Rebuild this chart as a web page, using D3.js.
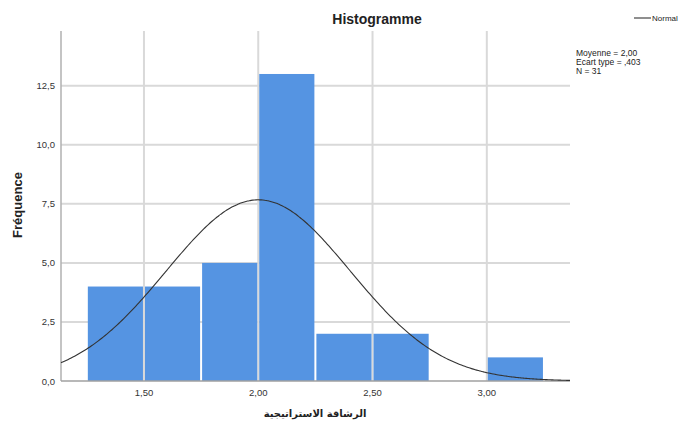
<!DOCTYPE html>
<html><head><meta charset="utf-8">
<script src="https://cdn.jsdelivr.net/npm/d3@7"></script>
<style>body{margin:0;background:#fff}svg{display:block}</style>
</head><body><svg id="c" width="683" height="421"></svg>
<script>
// Data
const binStarts = [1.25, 1.50, 1.75, 2.00, 2.25, 2.50, 2.75, 3.00];
const binWidth = 0.25;
const counts = [4, 4, 5, 13, 2, 2, 0, 1];
const yTicks = [0, 2.5, 5, 7.5, 10, 12.5];
const xTicks = [1.5, 2.0, 2.5, 3.0];
const stats = {mean: 2.00, sd: 0.403, n: 31};
const statLines = ["Moyenne = 2,00", "Ecart type = ,403", "N = 31"];

const svg = d3.select("#c");
const L = 61, R = 570, T = 31, B = 381;
const x = d3.scaleLinear().domain([1.137, 3.364]).range([L, R]);
const y = d3.scaleLinear().domain([0, 14.82]).range([B, T]);
const comma = s => s.replace(".", ",");
const fy = v => comma(d3.format(".1f")(v));
const fx = v => comma(d3.format(".2f")(v));
const grid = "#d9d9d9";

// gridlines
svg.append("g").selectAll("line").data(yTicks.filter(v => v > 0)).join("line")
  .attr("x1", L).attr("x2", R).attr("y1", d => y(d)).attr("y2", d => y(d))
  .attr("stroke", grid).attr("stroke-width", 2);
svg.append("g").selectAll("line").data(xTicks).join("line")
  .attr("x1", d => x(d)).attr("x2", d => x(d)).attr("y1", T).attr("y2", B)
  .attr("stroke", grid).attr("stroke-width", 2);

// bars
svg.append("g").selectAll("rect").data(binStarts.map((s, i) => ({s, c: counts[i]})).filter(d => d.c > 0)).join("rect")
  .attr("x", d => x(d.s) + 1).attr("width", d => x(d.s + binWidth) - x(d.s) - 2)
  .attr("y", d => y(d.c)).attr("height", d => B - y(d.c))
  .attr("fill", "#5594e2");

// axes lines
svg.append("line").attr("x1", L).attr("x2", L).attr("y1", T).attr("y2", B).attr("stroke", "#b0b0b0").attr("stroke-width", 1.5);
svg.append("line").attr("x1", L).attr("x2", R).attr("y1", B).attr("y2", B).attr("stroke", "#a0a0a0").attr("stroke-width", 1.5);

// normal curve
const pdf = v => stats.n * binWidth / (stats.sd * Math.sqrt(2 * Math.PI)) * Math.exp(-0.5 * ((v - stats.mean) / stats.sd) ** 2);
const xs = d3.range(0, 301).map(i => x.domain()[0] + i * (x.domain()[1] - x.domain()[0]) / 300);
svg.append("path").datum(xs)
  .attr("d", d3.line().x(d => x(d)).y(d => y(pdf(d))).curve(d3.curveBasis))
  .attr("fill", "none").attr("stroke", "#333").attr("stroke-width", 1.1);

// tick labels
const font = "'Liberation Sans', Arial, sans-serif";
svg.append("g").selectAll("text").data(yTicks).join("text")
  .attr("x", 55).attr("y", d => y(d) + 3.5).attr("text-anchor", "end")
  .attr("font-family", font).attr("font-size", 9.5).attr("fill", "#333").text(fy);
svg.append("g").selectAll("text").data(xTicks).join("text")
  .attr("x", d => x(d)).attr("y", 396).attr("text-anchor", "middle")
  .attr("font-family", font).attr("font-size", 9.5).attr("fill", "#333").text(fx);

// titles
svg.append("text").attr("x", 377).attr("y", 24).attr("text-anchor", "middle")
  .attr("font-family", font).attr("font-size", 14).attr("font-weight", "bold").attr("fill", "#222").text("Histogramme");
svg.append("text").attr("transform", "translate(22,205) rotate(-90)").attr("text-anchor", "middle")
  .attr("font-family", font).attr("font-size", 13).attr("font-weight", "bold").attr("fill", "#222").text("Fréquence");
svg.append("text").attr("x", 315).attr("y", 417).attr("text-anchor", "middle").attr("direction", "rtl")
  .attr("font-family", "'DejaVu Sans', sans-serif").attr("font-size", 10).attr("font-weight", "bold").attr("fill", "#222").text("الرشاقة الاستراتيجية");

// legend
svg.append("line").attr("x1", 634).attr("x2", 651).attr("y1", 18).attr("y2", 18).attr("stroke", "#333").attr("stroke-width", 1.1);
svg.append("text").attr("x", 652).attr("y", 21).attr("font-family", font).attr("font-size", 8).attr("fill", "#222").text("Normal");
svg.append("g").selectAll("text").data(statLines).join("text")
  .attr("x", 576).attr("y", (d, i) => 56 + i * 9)
  .attr("font-family", font).attr("font-size", 8.5).attr("fill", "#222").text(d => d);
</script></body></html>
